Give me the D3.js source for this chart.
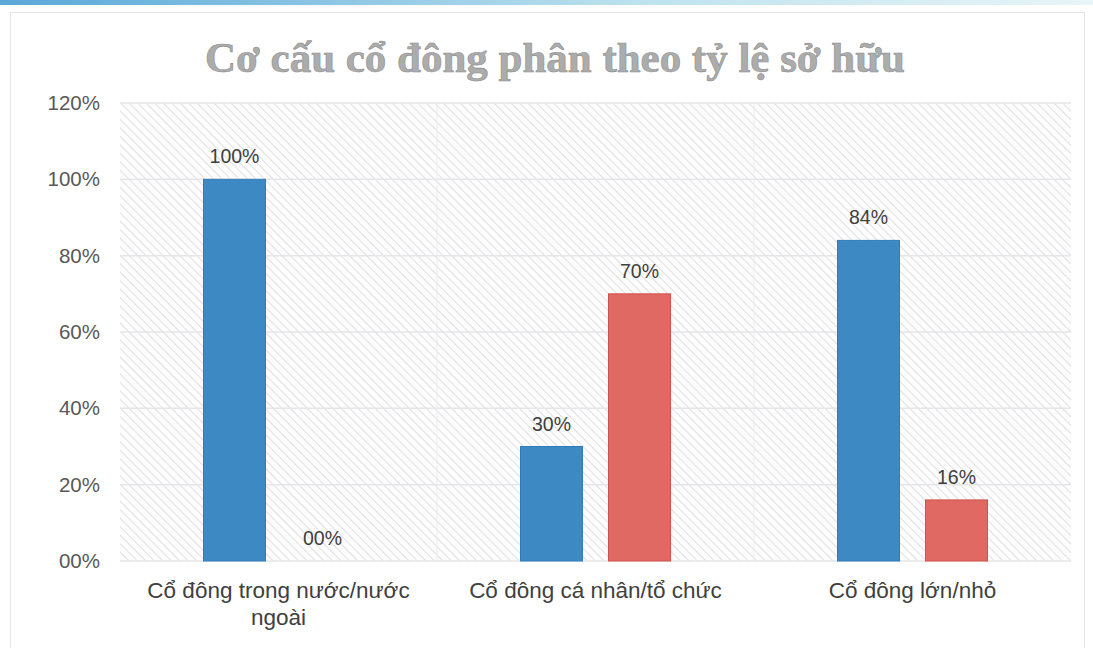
<!DOCTYPE html>
<html>
<head>
<meta charset="utf-8">
<script src="https://cdn.jsdelivr.net/npm/d3@7"></script>
<style>
  body { margin: 0; background: #fff; }
  svg { display: block; }
</style>
</head>
<body>
<svg id="chart" width="1093" height="648"></svg>
<script>
(function(){
'use strict';

var title = "Cơ cấu cổ đông phân theo tỷ lệ sở hữu";
var categories = [
    ["Cổ đông trong nước/nước", "ngoài"],
    ["Cổ đông cá nhân/tổ chức"],
    ["Cổ đông lớn/nhỏ"]
];
var seriesA = [100, 30, 84];
var seriesB = [0, 70, 16];
var labelsA = ["100%", "30%", "84%"];
var labelsB = ["00%", "70%", "16%"];
var yTicks = [0, 20, 40, 60, 80, 100, 120];
var yTickLabels = ["00%", "20%", "40%", "60%", "80%", "100%", "120%"];

var colors = { a: "#3c89c3", aStroke: "#2f7cba", b: "#e06a63", bStroke: "#d4504a" };

var svg = d3.select("#chart"),
    W = 1093, H = 648,
    plot = { left: 120, right: 1071, top: 103, bottom: 561 };

// page frame, as in the scanned image
var defs = svg.append("defs");
var topBand = defs.append("linearGradient").attr("id", "band").attr("x1", 0).attr("x2", 1);
topBand.append("stop").attr("offset", "0%").attr("stop-color", "#5aa8d8");
topBand.append("stop").attr("offset", "60%").attr("stop-color", "#bfe3ef");
topBand.append("stop").attr("offset", "100%").attr("stop-color", "#e8f5f8");
svg.append("rect").attr("x", 0).attr("y", 0).attr("width", W).attr("height", 5).attr("fill", "url(#band)");
svg.append("rect").attr("x", 10.5).attr("y", 12.5).attr("width", 1074).attr("height", 640)
    .attr("fill", "none").attr("stroke", "#e4e4e4");

// diagonal hatch for the plot area (lines run top-left to bottom-right)
var pat = defs.append("pattern").attr("id", "hatch")
    .attr("patternUnits", "userSpaceOnUse").attr("width", 6).attr("height", 6)
    .attr("patternTransform", "rotate(-45)");
pat.append("rect").attr("width", 6).attr("height", 6).attr("fill", "#fdfdfd");
pat.append("line").attr("x1", 0).attr("y1", 0).attr("x2", 0).attr("y2", 6)
    .attr("stroke", "#d9d9dc").attr("stroke-width", 1.6);

var x = d3.scaleBand().domain(d3.range(categories.length)).range([plot.left, plot.right]);
var y = d3.scaleLinear().domain([0, 120]).range([plot.bottom, plot.top]);
var barW = 62, gap = 26;

svg.append("rect")
    .attr("x", plot.left).attr("y", plot.top)
    .attr("width", plot.right - plot.left).attr("height", plot.bottom - plot.top)
    .attr("fill", "url(#hatch)");

// gridlines
svg.append("g").selectAll("line").data(yTicks).join("line")
    .attr("x1", plot.left).attr("x2", plot.right)
    .attr("y1", function(d) { return y(d); }).attr("y2", function(d) { return y(d); })
    .attr("stroke", "#e6e6ea").attr("stroke-width", 1.5);
svg.append("g").selectAll("line").data(d3.range(1, categories.length)).join("line")
    .attr("x1", function(d) { return x(d); }).attr("x2", function(d) { return x(d); })
    .attr("y1", plot.top).attr("y2", plot.bottom)
    .attr("stroke", "#ececf0").attr("stroke-width", 1);

var font = "Liberation Sans, Arial, sans-serif";

// y axis labels
svg.append("g").selectAll("text").data(yTicks).join("text")
    .attr("x", 100).attr("y", function(d) { return y(d) + 7; })
    .attr("text-anchor", "end")
    .attr("font-family", font)
    .attr("font-size", 20.5).attr("fill", "#595959")
    .text(function(d, i) { return yTickLabels[i]; });

// bars
var groups = svg.append("g").selectAll("g").data(categories).join("g");
function cx(i) { return x(i) + x.bandwidth() / 2; }

groups.append("rect")
    .attr("x", function(d, i) { return cx(i) - gap / 2 - barW; })
    .attr("y", function(d, i) { return y(seriesA[i]); })
    .attr("width", barW)
    .attr("height", function(d, i) { return y(0) - y(seriesA[i]); })
    .attr("fill", colors.a).attr("stroke", colors.aStroke).attr("stroke-width", 1);

groups.append("rect")
    .attr("x", function(d, i) { return cx(i) + gap / 2; })
    .attr("y", function(d, i) { return y(seriesB[i]); })
    .attr("width", barW)
    .attr("height", function(d, i) { return y(0) - y(seriesB[i]); })
    .attr("fill", colors.b).attr("stroke", colors.bStroke).attr("stroke-width", 1);

// value labels
groups.append("text")
    .attr("x", function(d, i) { return cx(i) - gap / 2 - barW / 2; })
    .attr("y", function(d, i) { return y(seriesA[i]) - 16; })
    .attr("text-anchor", "middle").attr("font-family", font)
    .attr("font-size", 19.5).attr("fill", "#404040")
    .text(function(d, i) { return labelsA[i]; });
groups.append("text")
    .attr("x", function(d, i) { return cx(i) + gap / 2 + barW / 2; })
    .attr("y", function(d, i) { return y(seriesB[i]) - 16; })
    .attr("text-anchor", "middle").attr("font-family", font)
    .attr("font-size", 19.5).attr("fill", "#404040")
    .text(function(d, i) { return labelsB[i]; });

// category labels
groups.append("text")
    .attr("text-anchor", "middle").attr("font-family", font)
    .attr("font-size", 22.5).attr("fill", "#404040")
    .each(function(d, i) {
        d3.select(this).selectAll("tspan").data(d).join("tspan")
            .attr("x", cx(i))
            .attr("y", function(t, j) { return 598 + j * 27; })
            .text(function(t) { return t; });
    });

// title, sized to match the reference width
var t = svg.append("text")
    .attr("x", 555).attr("y", 72)
    .attr("text-anchor", "middle")
    .attr("font-family", "Liberation Serif, DejaVu Serif, serif")
    .attr("font-weight", "bold")
    .attr("font-size", 34)
    .attr("fill", "#acacac").attr("stroke", "#8c8c8c").attr("stroke-width", 0.6)
    .text(title);
var tw = t.node().getComputedTextLength();
t.attr("font-size", 34 * 700 / tw);

})();
</script>
</body>
</html>
